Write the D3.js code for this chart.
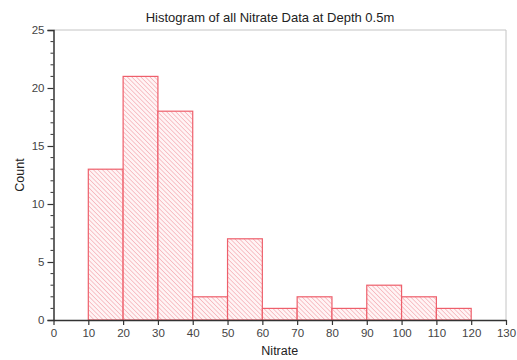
<!DOCTYPE html>
<html>
<head>
<meta charset="utf-8">
<script src="https://cdn.jsdelivr.net/npm/d3@7"></script>
<style>
  body { margin: 0; background: #fff; }
  svg { display: block; font-family: "Liberation Sans", Arial, sans-serif; }
</style>
</head>
<body>
<svg id="chart" width="517" height="360"></svg>
<script>
// Nitrate histogram: bin edges and counts per bin
const binStarts = [10, 20, 30, 40, 50, 60, 70, 80, 90, 100, 110];
const binWidth = 10;
const counts = [13, 21, 18, 2, 7, 1, 2, 1, 3, 2, 1];
const xTicks = [0, 10, 20, 30, 40, 50, 60, 70, 80, 90, 100, 110, 120, 130];
const yTicks = [0, 5, 10, 15, 20, 25];
const titleText = "Histogram of all Nitrate Data at Depth 0.5m";
const xLabel = "Nitrate";
const yLabel = "Count";

const svg = d3.select("#chart");
const plotL = 53.5, plotR = 506, plotT = 30, plotB = 320;

const x = d3.scaleLinear().domain([0, 130]).range([plotL, plotR]);
const y = d3.scaleLinear().domain([0, 25]).range([plotB, plotT]);

// diagonal hatch pattern
const defs = svg.append("defs");
const pat = defs.append("pattern")
  .attr("id", "hatch")
  .attr("patternUnits", "userSpaceOnUse")
  .attr("width", 3.2).attr("height", 3.2)
  .attr("patternTransform", "rotate(-45)");
pat.append("rect").attr("width", 3.2).attr("height", 3.2).attr("fill", "#fff4f5");
pat.append("line")
  .attr("x1", 0).attr("y1", 0).attr("x2", 0).attr("y2", 3.2)
  .attr("stroke", "#f4a9b0").attr("stroke-width", 1.3);

// frame: top and right borders
svg.append("line").attr("x1", plotL).attr("x2", plotR).attr("y1", plotT).attr("y2", plotT)
  .attr("stroke", "#c4c4c4").attr("stroke-width", 1);
svg.append("line").attr("x1", plotR).attr("x2", plotR).attr("y1", plotT).attr("y2", plotB)
  .attr("stroke", "#c4c4c4").attr("stroke-width", 1);

// bars
const bars = binStarts.map((s, i) => ({ x0: s, x1: s + binWidth, n: counts[i] }));
svg.append("g").selectAll("rect").data(bars).join("rect")
  .attr("x", d => x(d.x0))
  .attr("y", d => y(d.n))
  .attr("width", d => x(d.x1) - x(d.x0))
  .attr("height", d => y(0) - y(d.n))
  .attr("fill", "url(#hatch)")
  .attr("stroke", "#ee5f6b")
  .attr("stroke-width", 1.2);

// y axis
const yMinor = d3.range(0, 26);
const gy = svg.append("g").attr("transform", `translate(${plotL},0)`);
gy.selectAll("line.minor").data(yMinor.filter(v => v % 5 !== 0)).join("line")
  .attr("class", "minor")
  .attr("x1", -3).attr("x2", 0)
  .attr("y1", d => y(d)).attr("y2", d => y(d))
  .attr("stroke", "#333").attr("stroke-width", 1);
gy.call(d3.axisLeft(y).tickValues(yTicks).tickSize(6).tickPadding(3))
  .call(g => g.select(".domain").attr("stroke", "#333").attr("stroke-width", 1.5))
  .call(g => g.selectAll(".tick line").attr("stroke", "#333").attr("stroke-width", 1.2))
  .call(g => g.selectAll(".tick text").attr("font-size", 11.5).attr("fill", "#444")
    .attr("font-family", "Liberation Sans, Arial, sans-serif"));

// x axis
const gx = svg.append("g").attr("transform", `translate(0,${plotB})`);
gx.call(d3.axisBottom(x).tickValues(xTicks).tickSize(5).tickPadding(4).tickSizeOuter(0))
  .call(g => g.select(".domain").attr("stroke", "#333").attr("stroke-width", 1.5))
  .call(g => g.selectAll(".tick line").attr("stroke", "#333").attr("stroke-width", 1.2))
  .call(g => g.selectAll(".tick text").attr("font-size", 11.5).attr("fill", "#444")
    .attr("font-family", "Liberation Sans, Arial, sans-serif"));

// title and axis labels
svg.append("text").attr("x", 270).attr("y", 22)
  .attr("text-anchor", "middle").attr("font-size", 13).attr("fill", "#222")
  .text(titleText);
svg.append("text").attr("x", (plotL + plotR) / 2).attr("y", 355)
  .attr("text-anchor", "middle").attr("font-size", 12.5).attr("fill", "#222")
  .text(xLabel);
svg.append("text")
  .attr("transform", `translate(24,${(plotT + plotB) / 2}) rotate(-90)`)
  .attr("text-anchor", "middle").attr("font-size", 12.5).attr("fill", "#222")
  .text(yLabel);
</script>
</body>
</html>
